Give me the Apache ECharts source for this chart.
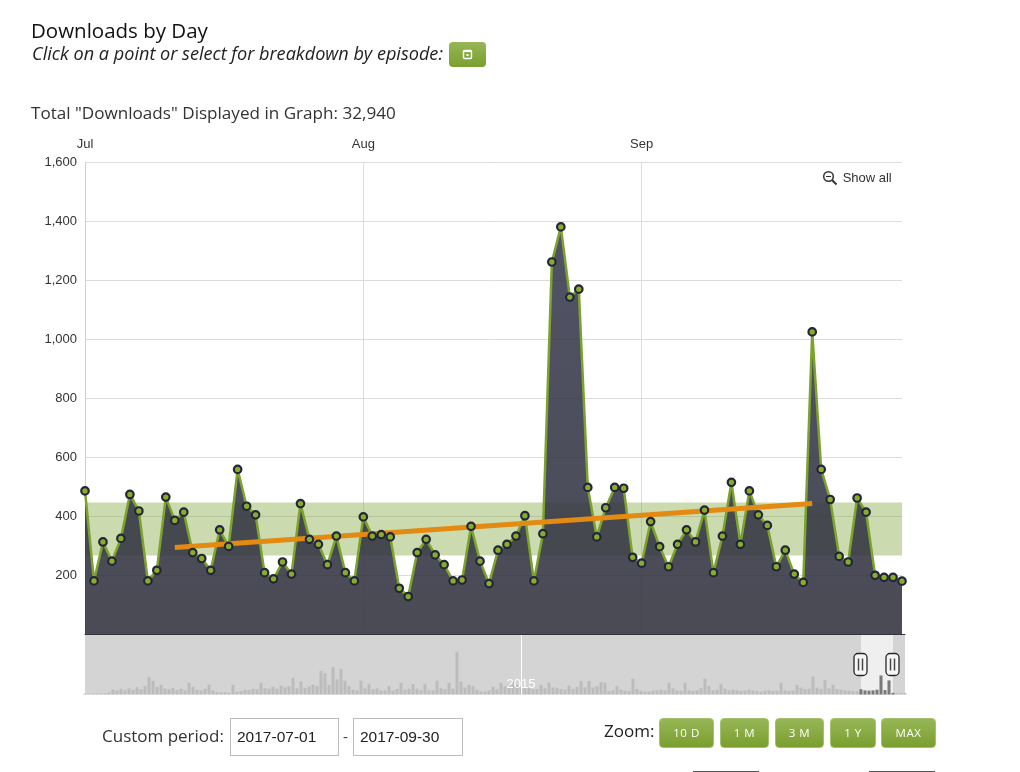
<!DOCTYPE html>
<html>
<head>
<meta charset="utf-8">
<title>Downloads by Day</title>
<script src="https://cdn.jsdelivr.net/npm/echarts@6/dist/echarts.min.js"></script>
<style>
html, body { margin: 0; padding: 0; background: #fff; }
body { width: 1020px; height: 772px; position: relative; overflow: hidden; font-family: "Open Sans", sans-serif; color: #222; }
#chart { position: absolute; left: 0; top: 0; width: 1020px; height: 772px; }
.abs { position: absolute; white-space: nowrap; }
.btn { position: absolute; box-sizing: border-box; height: 30px; top: 718px; border-radius: 4px; border: 1px solid #a4c06c;
  background: linear-gradient(#97b657, #7a9f2e); color: #fff; font: 11.5px "Open Sans", sans-serif; letter-spacing: .5px;
  text-align: center; line-height: 28px; }
.inp { position: absolute; box-sizing: border-box; top: 718px; height: 38px; border: 1px solid #bbb; font: 15.5px "Liberation Sans", sans-serif;
  color: #222; padding-left: 6px; line-height: 36px; }
</style>
</head>
<body>
<div class="abs" style="left:0;top:0;width:1020px;height:1px;background:#bbb"></div>
<div class="abs" style="left:0;top:0;width:7px;height:772px;background:#dedede"></div>
<div id="chart"></div>
<div class="abs" style="left:31px;top:16px;font-size:20.5px;font-weight:500;color:#111">Downloads by Day</div>
<div class="abs" style="left:32px;top:41px;font-size:18.1px;font-style:italic;color:#222">Click on a point or select for breakdown by episode:</div>
<div class="abs" style="left:449px;top:42px;width:37px;height:25px;border-radius:4px;background:linear-gradient(#97b657,#7a9f2e)">
  <svg width="37" height="25"><rect x="14.5" y="8.5" width="8" height="8" rx="1" fill="none" stroke="#fff" stroke-width="1.4"/><rect x="14.5" y="8" width="8" height="2" fill="#fff"/><rect x="17.5" y="12" width="2" height="2" fill="#fff"/></svg>
</div>
<div class="abs" style="left:31px;top:101px;font-size:17.1px;color:#333">Total "Downloads" Displayed in Graph: 32,940</div>
<div class="abs" style="left:822px;top:170px;font:13px 'Liberation Sans',sans-serif;color:#333;line-height:16px">
  <svg width="16" height="16" style="vertical-align:top"><circle cx="6.5" cy="6.5" r="4.8" fill="none" stroke="#333" stroke-width="1.5"/><line x1="10" y1="10" x2="14.5" y2="14.5" stroke="#333" stroke-width="2"/><line x1="4" y1="6.5" x2="9" y2="6.5" stroke="#333"/></svg>
  <span style="margin-left:1px">Show all</span>
</div>
<div class="abs" style="left:102px;top:724px;font-size:17px;color:#333">Custom period:</div>
<div class="inp" style="left:230px;width:109px">2017-07-01</div>
<div class="abs" style="left:343px;top:726px;font-size:15px;color:#333">-</div>
<div class="inp" style="left:353px;width:110px">2017-09-30</div>
<div class="abs" style="left:604px;top:719px;font-size:17px;color:#222">Zoom:</div>
<div class="btn" style="left:659px;width:55px">10 D</div>
<div class="btn" style="left:720px;width:49px">1 M</div>
<div class="btn" style="left:775px;width:49px">3 M</div>
<div class="btn" style="left:830px;width:46px">1 Y</div>
<div class="btn" style="left:881px;width:55px">MAX</div>
<div class="abs" style="left:693px;top:771px;width:66px;height:1px;background:#555"></div>
<div class="abs" style="left:869px;top:771px;width:66px;height:1px;background:#555"></div>
<script>
var downloads = [
  485, 180, 312, 247, 324, 473, 417, 180, 216, 464, 385, 413, 276, 256, 216, 353,
  297, 558, 433, 404, 208, 187, 244, 203, 442, 321, 304, 235, 332, 208, 180,
  397, 332, 337, 329, 155, 127, 276, 321, 268, 235, 180, 183, 365, 247, 171, 284,
  304, 332, 401, 180, 340, 1261, 1380, 1142, 1169, 497, 329, 428, 497, 494, 260,
  240, 381, 296, 228, 304, 353, 312, 420, 208, 332, 514, 304, 485, 404, 368, 228,
  284, 203, 175, 1024, 558, 456, 263, 244, 461, 413, 199, 192, 192, 179
];
var month_lengths = [31, 31, 30];
var month_names = ['Jul', 'Aug', 'Sep'];
var y_ticks = [0, 200, 400, 600, 800, 1000, 1200, 1400, 1600];
var band_range = [266, 446];
var trend_index = [10, 81];
var trend_values = [293, 442];

// overview strip, whole history of the show
var overview = [
  70, 60, 70, 80, 70, 90, 140, 360, 280, 410, 300, 450, 330, 520, 380, 600, 1250, 1000, 560, 700,
  430, 380, 470, 330, 420, 300, 840, 560, 340, 290, 420, 720, 300, 180, 150, 170, 140, 700, 200, 240,
  350, 330, 420, 380, 850, 460, 430, 560, 420, 650, 520, 600, 1200, 450, 950, 480, 600, 720, 620, 1700,
  1550, 700, 2000, 1100, 1850, 1000, 600, 350, 300, 1000, 450, 750, 380, 450, 300, 300, 600, 280, 400, 850,
  350, 420, 750, 420, 300, 750, 320, 300, 1000, 450, 380, 850, 420, 3100, 950, 500, 700, 600, 350, 220,
  200, 300, 560, 380, 840, 600, 750, 980, 700, 500, 450, 480, 380, 400, 700, 450, 850, 500, 480, 400,
  350, 650, 400, 550, 980, 500, 980, 500, 600, 900, 850, 250, 300, 600, 350, 280, 250, 1150, 400, 250,
  200, 220, 280, 300, 350, 300, 850, 450, 300, 280, 850, 300, 250, 300, 450, 1150, 600, 300, 350, 750,
  420, 300, 350, 300, 250, 280, 350, 300, 250, 200, 280, 300, 250, 280, 850, 300, 250, 280, 700, 500,
  400, 420, 1300, 500, 400, 1050, 450, 700, 400, 350, 300, 280, 250, 220, 380, 300, 280, 300, 350, 1380,
  320, 1020, 120, 100, 120, 110
];
var window_bins = [194, 202];
var year_bin = 109;
var year_label = '2015';

var dates = [];
var month_starts = {};
var i, m, d;
for (m = 0, i = 0; m < month_lengths.length; m++) {
  month_starts[i] = month_names[m];
  for (d = 1; d <= month_lengths[m]; d++, i++) {
    dates.push('2017-0' + (m + 7) + '-' + (d < 10 ? '0' + d : d));
  }
}
var overview_bins = overview.map(function(v, idx) { return idx; });
var overview_window = overview.map(function(v, idx) {
  return idx >= window_bins[0] && idx <= window_bins[1] ? v : null;
});

var myChart = echarts.init(document.getElementById('chart'));
var label_font = 'Liberation Sans';
var option = {
  animation: false,
  backgroundColor: '#fff',
  grid: [
    { left: 85, top: 162, width: 817, height: 472, show: false },
    { left: 85, top: 634.5, width: 820, height: 60, show: true, backgroundColor: '#d4d4d4', borderWidth: 0 }
  ],
  xAxis: [
    {
      type: 'category',
      gridIndex: 0,
      position: 'top',
      data: dates,
      boundaryGap: false,
      axisLine: { show: false },
      axisTick: { show: false },
      axisLabel: {
        margin: 11,
        fontFamily: label_font,
        fontSize: 13,
        color: '#333',
        interval: function(index) { return month_starts[index] !== undefined; },
        formatter: function(value, index) { return month_starts[index] || ''; }
      },
      splitLine: {
        show: true,
        interval: function(index) { return month_starts[index] !== undefined; },
        lineStyle: { color: '#dcdcdc', width: 1 }
      }
    },
    {
      type: 'category',
      gridIndex: 1,
      position: 'top',
      z: 6,
      data: overview_bins,
      boundaryGap: false,
      axisLine: { show: true, onZero: false, lineStyle: { color: '#33343f', width: 1 } },
      axisTick: { show: false },
      axisLabel: {
        inside: true,
        margin: 43,
        fontFamily: label_font,
        fontSize: 13,
        color: '#fff',
        interval: function(index) { return index === year_bin; },
        formatter: function() { return year_label; }
      },
      splitLine: {
        show: true,
        interval: function(index) { return index === year_bin; },
        lineStyle: { color: '#fff', width: 1 }
      }
    }
  ],
  yAxis: [
    {
      type: 'value',
      gridIndex: 0,
      min: y_ticks[0],
      max: y_ticks[y_ticks.length - 1],
      interval: 200,
      axisLine: { show: true, lineStyle: { color: '#d0d0d0' } },
      axisTick: { show: false },
      axisLabel: {
        margin: 8,
        fontFamily: label_font,
        fontSize: 13,
        color: '#333',
        formatter: function(v) { return v === 0 ? '' : v.toLocaleString('en-US'); }
      },
      splitLine: { lineStyle: { color: '#dcdcdc', width: 1 } }
    },
    {
      type: 'value',
      gridIndex: 1,
      min: 0,
      max: 4356,
      show: false
    }
  ],
  series: [
    {
      name: 'Downloads',
      type: 'line',
      xAxisIndex: 0,
      yAxisIndex: 0,
      data: downloads,
      z: 2,
      showSymbol: false,
      symbol: 'none',
      lineStyle: { color: '#7da32f', width: 2.5 },
      areaStyle: {
        opacity: 1,
        color: new echarts.graphic.LinearGradient(0, 0, 0, 1, [
          { offset: 0, color: 'rgba(54,57,78,0.87)' },
          { offset: 1, color: 'rgba(48,48,60,0.87)' }
        ])
      },
      markArea: {
        silent: true,
        z: 1,
        itemStyle: { color: 'rgba(125,165,55,0.4)', borderWidth: 0 },
        data: [[{ yAxis: band_range[0] }, { yAxis: band_range[1] }]]
      }
    },
    {
      name: 'Trend',
      type: 'line',
      xAxisIndex: 0,
      yAxisIndex: 0,
      z: 3,
      symbol: 'none',
      data: [[trend_index[0], trend_values[0]], [trend_index[1], trend_values[1]]],
      lineStyle: { color: '#e38a12', width: 5, cap: 'butt' }
    },
    {
      name: 'Points',
      type: 'scatter',
      xAxisIndex: 0,
      yAxisIndex: 0,
      z: 4,
      data: downloads,
      symbol: 'circle',
      symbolSize: 7.5,
      itemStyle: { color: '#8aac2b', borderColor: '#23263a', borderWidth: 2.2, opacity: 1 }
    },
    {
      name: 'Overview',
      type: 'bar',
      xAxisIndex: 1,
      yAxisIndex: 1,
      data: overview,
      z: 2,
      barWidth: 3,
      barGap: '-100%',
      itemStyle: { color: '#bcbcbc' },
      markArea: {
        silent: true,
        z: 3,
        itemStyle: { color: 'rgba(255,255,255,0.62)', borderWidth: 0 },
        data: [[{ xAxis: window_bins[0] }, { xAxis: window_bins[1] }]]
      }
    },
    {
      name: 'Overview window',
      type: 'bar',
      xAxisIndex: 1,
      yAxisIndex: 1,
      data: overview_window,
      z: 4,
      barWidth: 3,
      barGap: '-100%',
      itemStyle: { color: '#7a7a7a' }
    },
    {
      name: 'Handles',
      type: 'custom',
      xAxisIndex: 1,
      yAxisIndex: 1,
      z: 7,
      silent: true,
      data: window_bins.map(function(b) { return [b, 0]; }),
      encode: { x: 0, y: 1 },
      renderItem: function(params, api) {
        var p = api.coord([api.value(0), api.value(1)]);
        var cx = Math.round(p[0]) - 0.5;
        var top = p[1] - 41;
        return {
          type: 'group',
          children: [
            { type: 'rect', shape: { x: cx - 6.5, y: top, width: 13, height: 22, r: 4 }, style: { fill: '#f6f6f6', stroke: '#26272b', lineWidth: 1.3 } },
            { type: 'line', shape: { x1: cx - 2, y1: top + 5, x2: cx - 2, y2: top + 17 }, style: { stroke: '#444', lineWidth: 1.5 } },
            { type: 'line', shape: { x1: cx + 2, y1: top + 5, x2: cx + 2, y2: top + 17 }, style: { stroke: '#444', lineWidth: 1.5 } }
          ]
        };
      }
    }
  ]
};
myChart.setOption(option);
</script>
</body>
</html>
